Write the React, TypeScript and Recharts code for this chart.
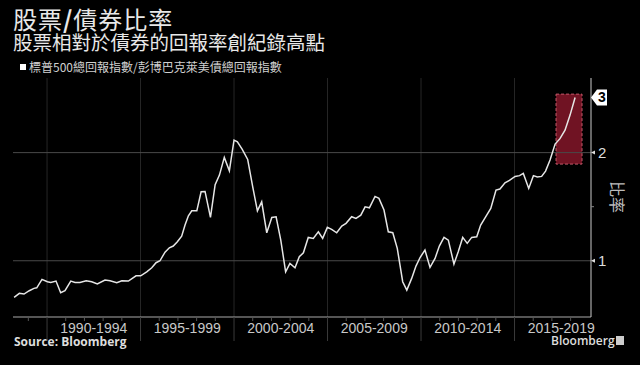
import React from 'react';
import { LineChart, Line, XAxis, YAxis, ReferenceLine, ReferenceArea } from 'recharts';

// ratio of S&P 500 total return index to Bloomberg Barclays US Agg total return index
const years = [
  1988.24, 1988.52, 1988.77, 1989.05, 1989.3, 1989.45, 1989.73, 1990.02, 1990.2, 1990.48,
  1990.73, 1990.96, 1991.27, 1991.5, 1991.76, 1992.09, 1992.39, 1992.69, 1993.1, 1993.37,
  1993.73, 1994.0, 1994.35, 1994.76, 1995.01, 1995.33, 1995.6, 1995.83, 1996.04, 1996.31,
  1996.54, 1996.75, 1996.97, 1997.2, 1997.38, 1997.56, 1997.74, 1998.01, 1998.24, 1998.45,
  1998.74, 1998.99, 1999.22, 1999.48, 1999.75, 2000.0, 2000.18, 2000.44, 2000.73, 2001.0,
  2001.25, 2001.48, 2001.75, 2002.02, 2002.25, 2002.5, 2002.76, 2002.99, 2003.26, 2003.49,
  2003.71, 2003.97, 2004.24, 2004.51, 2004.74, 2004.99, 2005.22, 2005.49, 2005.76, 2005.99,
  2006.29, 2006.52, 2006.78, 2007.01, 2007.24, 2007.54, 2007.75, 2008.02, 2008.25, 2008.49,
  2008.73, 2009.02, 2009.24, 2009.5, 2009.73, 2009.95, 2010.21, 2010.48, 2010.75, 2010.98,
  2011.23, 2011.46, 2011.76, 2011.99, 2012.23, 2012.47, 2012.71, 2012.98, 2013.19, 2013.48,
  2013.73, 2014.01, 2014.22, 2014.49, 2014.73, 2015.03, 2015.27, 2015.47, 2015.76, 2016.01,
  2016.22, 2016.45, 2016.66, 2016.9, 2017.17, 2017.43, 2017.7, 2017.97, 2018.24,
];
const ratios = [
  0.662, 0.699, 0.692, 0.723, 0.745, 0.75, 0.828, 0.806, 0.8, 0.812,
  0.704, 0.723, 0.812, 0.8, 0.8, 0.815, 0.806, 0.785, 0.822, 0.815,
  0.797, 0.815, 0.812, 0.861, 0.861, 0.898, 0.935, 0.982, 1.0, 1.08,
  1.12, 1.136, 1.176, 1.228, 1.33, 1.416, 1.462, 1.462, 1.638, 1.641,
  1.402, 1.704, 1.792, 1.956, 1.832, 2.116, 2.1, 2.03, 1.937, 1.684,
  1.462, 1.545, 1.259, 1.401, 1.407, 1.191, 0.898, 0.976, 0.935, 1.037,
  1.074, 1.216, 1.207, 1.268, 1.207, 1.309, 1.29, 1.259, 1.321, 1.346,
  1.407, 1.392, 1.422, 1.499, 1.49, 1.595, 1.577, 1.469, 1.268, 1.259,
  1.115, 0.806, 0.729, 0.837, 0.951, 1.03, 1.099, 0.939, 1.022, 1.136,
  1.216, 1.191, 0.97, 1.083, 1.216, 1.161, 1.216, 1.222, 1.33, 1.413,
  1.484, 1.653, 1.663, 1.721, 1.743, 1.78, 1.787, 1.808, 1.669, 1.787,
  1.774, 1.78, 1.829, 1.931, 2.079, 2.129, 2.208, 2.347, 2.51,
];

const periodLabels = ['1990-1994', '1995-1999', '2000-2004', '2005-2009', '2010-2014', '2015-2019'];
const periodStarts = [1990, 1995, 2000, 2005, 2010, 2015];
const periodMids = [1992.5, 1997.5, 2002.5, 2007.5, 2012.5, 2017.5];
const yearTicks = [1989, 1990, 1991, 1992, 1993, 1994, 1995, 1996, 1997, 1998, 1999, 2000, 2001, 2002, 2003,
  2004, 2005, 2006, 2007, 2008, 2009, 2010, 2011, 2012, 2013, 2014, 2015, 2016, 2017, 2018];
const yTicks = [1, 1.5, 2];
const gridValues = [1, 2];
const highlight = { x1: 2017.22, x2: 2018.61, y1: 1.894, y2: 2.541 };

const data = years.map((t, i) => ({ t, ratio: ratios[i] }));
const lastValue = ratios[ratios.length - 1];

const XTick = (props: any) => {
  const { x, y, payload } = props;
  const v = payload.value;
  const idx = periodMids.indexOf(v);
  if (idx >= 0) {
    return (
      <text x={x} y={y + 16} textAnchor="middle" fill="#c8c8c8" fontSize={14}
        fontFamily="'Liberation Sans Narrow', 'Liberation Sans', sans-serif">
        {periodLabels[idx]}
      </text>
    );
  }
  if (periodStarts.includes(v)) {
    return <line x1={x} x2={x} y1={y} y2={y + 24} stroke="#3a3a3a" strokeWidth={1} />;
  }
  return <line x1={x} x2={x} y1={y} y2={y + 4} stroke="#555" strokeWidth={1} />;
};

const YTick = (props: any) => {
  const { x, y, payload } = props;
  const v = payload.value;
  if (v === lastValue) {
    return (
      <g>
        <polygon points={`${x},${y} ${x + 6},${y - 8} ${x + 16},${y - 8} ${x + 16},${y + 8} ${x + 6},${y + 8}`} fill="#fff" />
        <text x={x + 11} y={y + 5} textAnchor="middle" fill="#000" fontSize={14} fontWeight="bold"
          fontFamily="'Liberation Sans', sans-serif">{Math.round(v)}</text>
      </g>
    );
  }
  if (v === 1.5) {
    return <line x1={x} x2={x + 3} y1={y} y2={y} stroke="#888" />;
  }
  return (
    <g>
      <polygon points={`${x},${y} ${x + 4},${y - 2} ${x + 4},${y + 2}`} fill="#ddd" />
      <text x={x + 7} y={y + 5} fill="#ddd" fontSize={15} fontFamily="'Liberation Sans', sans-serif">{v}</text>
    </g>
  );
};

export default function App() {
  return (
    <div style={{ position: 'fixed', left: 0, top: 0, width: 640, height: 365, background: '#000', overflow: 'hidden' }}>
      <div style={{ position: 'absolute', left: 13, top: 6, color: '#e8e8e8', fontSize: 24, fontFamily: "'Noto Sans CJK TC', sans-serif", lineHeight: '25px', letterSpacing: 1 }}>
        股票<b>/</b>債券比率
      </div>
      <div style={{ position: 'absolute', left: 13, top: 32, color: '#e8e8e8', fontSize: 19.5, fontFamily: "'Noto Sans CJK TC', sans-serif", lineHeight: '20px' }}>
        股票相對於債券的回報率創紀錄高點
      </div>
      <div style={{ position: 'absolute', left: 20, top: 64, width: 6, height: 6, background: '#fff' }} />
      <div style={{ position: 'absolute', left: 29, top: 59, color: '#d0d0d0', fontSize: 12, fontFamily: "'Noto Sans CJK TC', sans-serif", lineHeight: '16px' }}>
        標普500總回報指數/彭博巴克萊美債總回報指數
      </div>
      <div style={{ position: 'absolute', left: 609, top: 181, writingMode: 'vertical-rl', textOrientation: 'sideways', color: '#bbb', fontSize: 16, fontFamily: "'Noto Sans CJK TC', sans-serif", lineHeight: '18px', whiteSpace: 'nowrap' }}>
        比率
      </div>
      <div style={{ position: 'absolute', left: 14, top: 333, color: '#ddd', fontSize: 12, fontWeight: 'bold', fontFamily: "'Open Sans', sans-serif" }}>
        Source: Bloomberg
      </div>
      <div style={{ position: 'absolute', left: 551, top: 332, color: '#ddd', fontSize: 12, fontWeight: 600, fontFamily: "'Open Sans', sans-serif" }}>
        Bloomberg
      </div>
      <div style={{ position: 'absolute', left: 616, top: 336, width: 8, height: 9, background: '#ccc' }} />
      <div style={{ position: 'absolute', left: 0, top: 0 }}>
        <LineChart width={640} height={365} data={data} margin={{ top: 78, right: 0, bottom: 18, left: 13 }}>
          {periodStarts.map((p) => (
            <ReferenceLine key={p} x={p} stroke="#262626" strokeWidth={1} ifOverflow="hidden" />
          ))}
          {gridValues.map((g) => (
            <ReferenceLine key={g} y={g} stroke="#4a4a4a" strokeWidth={1} />
          ))}
          <XAxis dataKey="t" type="number" domain={[1988.18, 2019.09]} allowDataOverflow
            ticks={[...yearTicks, ...periodMids]} interval={0} tick={<XTick />}
            tickLine={false} tickSize={0} tickMargin={0} height={30}
            axisLine={{ stroke: '#aaa' }} />
          <YAxis orientation="right" type="number" domain={[0.48, 2.69]} allowDataOverflow
            ticks={[...yTicks, lastValue]} interval={0} tick={<YTick />}
            tickLine={false} tickSize={0} tickMargin={0} width={49}
            axisLine={{ stroke: '#ccc' }} />
          <Line dataKey="ratio" type="linear" stroke="#e6e6e6" strokeWidth={1.5} dot={false} isAnimationActive={false} />
          <ReferenceArea x1={highlight.x1} x2={highlight.x2} y1={highlight.y1} y2={highlight.y2}
            fill="#9b1b30" fillOpacity={0.72} stroke="#c25a6a" strokeDasharray="3 2" strokeWidth={1} />
        </LineChart>
      </div>
    </div>
  );
}
